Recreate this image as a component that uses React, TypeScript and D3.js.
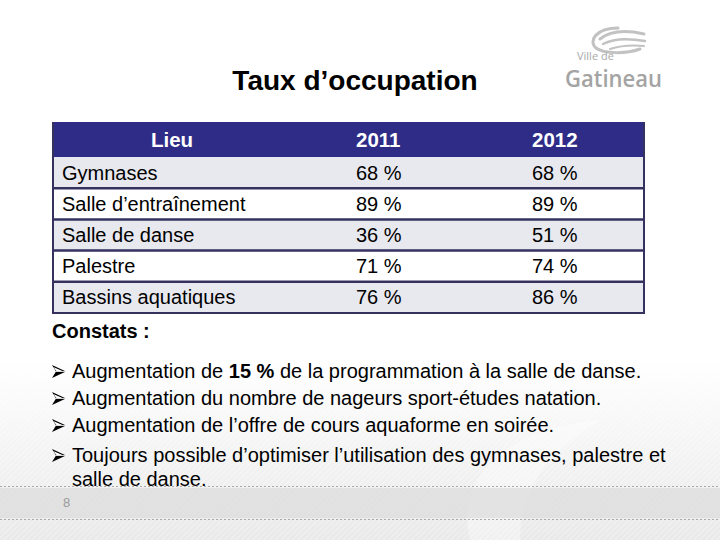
import React from "react";
import * as d3 from "d3";

// table data
const colHeaders = ["Lieu", "2011", "2012"];
const lieux = ["Gymnases", "Salle d\u2019entraînement", "Salle de danse", "Palestre", "Bassins aquatiques"];
const taux2011 = [68, 89, 36, 71, 76];
const taux2012 = [68, 89, 51, 74, 86];

const constatsTitle = "Constats :";
const constats = [
  ["Augmentation de ", "15 %", " de la programmation à la salle de danse."],
  ["Augmentation du nombre de nageurs sport-études natation."],
  ["Augmentation de l\u2019offre de cours aquaforme en soirée."],
  ["Toujours possible d\u2019optimiser l\u2019utilisation des gymnases, palestre et", "salle de danse."],
];

const W = 720, H = 540;
const font = "'Liberation Sans', Arial, sans-serif";

// arrow-head bullet like the Wingdings one in the slide
function Bullet({ x, y }: { x: number; y: number }) {
  return (
    <g>
      <path d={`M${x},${y - 13} L${x + 14},${y - 6.5} L${x},${y} L${x + 4},${y - 6.5} Z`} fill="#000" />
      <path d={`M${x + 4},${y - 6.5} L${x + 14},${y - 6.5}`} stroke="#fff" strokeWidth={0.8} />
      <path d={`M${x + 1.2},${y - 11} L${x + 11},${y - 6.8} L${x + 4.6},${y - 6.8} Z`} fill="#fff" />
    </g>
  );
}

export default function App() {
  const tLeft = 53, tRight = 644;
  const headTop = 122, headBottom = 157;
  const rowsBottom = 313;

  const y = d3.scaleBand<string>().domain(lieux).range([headBottom, rowsBottom]);
  const colX = [62, 356, 532];

  return (
    <svg width={W} height={H} style={{ position: "absolute", left: 0, top: 0, background: "#fff" }}>
      <defs>
        <linearGradient id="bg" x1="0" y1="0" x2="0" y2="1">
          <stop offset="0" stopColor="#ffffff" />
          <stop offset="1" stopColor="#e9e9e9" />
        </linearGradient>
        <pattern id="hatch" width="4" height="4" patternUnits="userSpaceOnUse" patternTransform="rotate(45)">
          <line x1="0" y1="0" x2="0" y2="4" stroke="#ffffff" strokeWidth="1.2" opacity="0.6" />
        </pattern>
      </defs>

      {/* background */}
      <rect x={0} y={360} width={W} height={H - 360} fill="url(#bg)" />
      <rect x={0} y={360} width={W} height={H - 360} fill="url(#hatch)" />
      <path d="M470,540 C455,480 500,430 600,420 C560,445 520,480 520,540 Z" fill="#ffffff" opacity="0.35" />
      <rect x={0} y={488} width={W} height={30} fill="#dcdcdc" opacity="0.7" />
      <line x1={0} x2={W} y1={486.5} y2={486.5} stroke="#a9a9a9" strokeDasharray="2,2" />
      <line x1={0} x2={W} y1={519.5} y2={519.5} stroke="#a9a9a9" strokeDasharray="2,2" />
      <text x={63} y={507} fontFamily={font} fontSize={13} fill="#9a9a9a">8</text>

      {/* logo */}
      <g fill="none" stroke="#c2c2c2" strokeLinecap="round">
        <path d="M618,28 C596,28 588,41 596,48 C604,54 626,54 640,49" strokeWidth={3} />
        <path d="M600,39 C610,31 626,30 644,34" strokeWidth={3} />
        <path d="M603,44 C614,38 628,38 645,41" strokeWidth={2.5} />
        <path d="M610,49 C622,45 634,45 644,46" strokeWidth={2} />
      </g>
      <text x={577} y={60} fontFamily="'Open Sans', sans-serif" fontSize={11} fill="#a8a8a8">Ville de</text>
      <text x={565} y={87} fontFamily="'Open Sans', sans-serif" fontWeight={600} fontSize={23}
        fill="#a4a4a4" textLength={97} lengthAdjust="spacingAndGlyphs">Gatineau</text>

      {/* title */}
      <text x={355} y={90} textAnchor="middle" fontFamily={font} fontWeight="bold" fontSize={28} fill="#000">
        Taux d’occupation
      </text>

      {/* table */}
      <rect x={tLeft} y={headTop} width={tRight - tLeft} height={headBottom - headTop} fill="#2e2c86" />
      {lieux.map((l, i) => (
        <rect key={l} x={tLeft} y={y(l)!} width={tRight - tLeft} height={y.bandwidth()}
          fill={i % 2 === 0 ? "#e8e8ef" : "#ffffff"} />
      ))}
      {lieux.map((l, i) => (
        <line key={"b" + l} x1={tLeft} x2={tRight} y1={y(l)! + y.bandwidth()} y2={y(l)! + y.bandwidth()}
          stroke="#35325f" strokeWidth={i === lieux.length - 1 ? 2 : 2.5} />
      ))}
      <line x1={tLeft} x2={tLeft} y1={headTop} y2={rowsBottom + 1} stroke="#35325f" strokeWidth={2} />
      <line x1={tRight} x2={tRight} y1={headTop} y2={rowsBottom + 1} stroke="#35325f" strokeWidth={2} />

      <text x={172} y={(headTop + headBottom) / 2 + 7} textAnchor="middle" fontFamily={font}
        fontWeight="bold" fontSize={20.5} fill="#fff">{colHeaders[0]}</text>
      <text x={colX[1]} y={(headTop + headBottom) / 2 + 7} fontFamily={font}
        fontWeight="bold" fontSize={20.5} fill="#fff">{colHeaders[1]}</text>
      <text x={colX[2]} y={(headTop + headBottom) / 2 + 7} fontFamily={font}
        fontWeight="bold" fontSize={20.5} fill="#fff">{colHeaders[2]}</text>

      {lieux.map((l, i) => {
        const cy = y(l)! + y.bandwidth() / 2 + 7;
        return (
          <g key={"t" + l} fontFamily={font} fontSize={20} fill="#000">
            <text x={colX[0]} y={cy}>{l}</text>
            <text x={colX[1]} y={cy}>{taux2011[i]} %</text>
            <text x={colX[2]} y={cy}>{taux2012[i]} %</text>
          </g>
        );
      })}

      {/* constats */}
      <text x={52} y={338} fontFamily={font} fontWeight="bold" fontSize={20} fill="#000">{constatsTitle}</text>
      {constats.map((c, i) => {
        const base = [378, 405, 432, 462][i];
        if (i === 0) {
          return (
            <g key={i}>
              <Bullet x={52} y={base} />
              <text x={72} y={base} fontFamily={font} fontSize={20} fill="#000">
                {c[0]}<tspan fontWeight="bold">{c[1]}</tspan>{c[2]}
              </text>
            </g>
          );
        }
        return (
          <g key={i}>
            <Bullet x={52} y={base} />
            {c.map((line, j) => (
              <text key={j} x={72} y={base + j * 24} fontFamily={font} fontSize={20} fill="#000">{line}</text>
            ))}
          </g>
        );
      })}
    </svg>
  );
}
